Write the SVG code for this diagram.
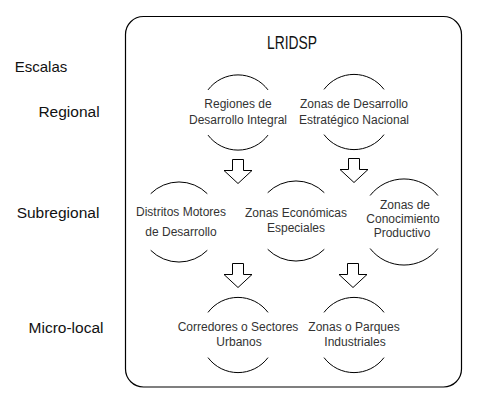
<svg xmlns="http://www.w3.org/2000/svg" width="481" height="406" viewBox="0 0 481 406">
<style>
.arc{fill:none;stroke:#000;stroke-width:1}
.arr{fill:#fff;stroke:#000;stroke-width:1}
.t{font-family:"Liberation Sans",Arial,sans-serif;font-size:12px;fill:#333;text-anchor:middle}
.s{font-family:"Liberation Sans",Arial,sans-serif;font-size:15.5px;fill:#111;text-anchor:middle}
</style>
<rect width="481" height="406" fill="#fff"/>
<g id="frame">
<rect x="125.5" y="16.5" width="336" height="370.5" rx="18" ry="18" fill="none" stroke="#000" stroke-width="1.2"/>
<text x="292" y="49" class="s" style="font-size:18px" textLength="50" lengthAdjust="spacingAndGlyphs">LRIDSP</text>
</g>
<g id="scales">
<text x="41" y="72" class="s" style="font-size:15px">Escalas</text>
<text x="69" y="117" class="s">Regional</text>
<text x="58" y="218" class="s">Subregional</text>
<text x="66" y="333" class="s">Micro-local</text>
</g>
<g id="n-rdi">
<path class="arc" d="M208,89.9 A37.5,37.5 0 0 1 268,89.9 M208,135.1 A37.5,37.5 0 0 0 268,135.1"/>
<text x="238" y="108" class="t">Regiones de</text>
<text x="238" y="124" class="t">Desarrollo Integral</text>
</g>
<g id="n-zden">
<path class="arc" d="M324,89.4 A37.5,37.5 0 0 1 384,89.4 M324,134.6 A37.5,37.5 0 0 0 384,134.6"/>
<text x="354" y="108" class="t">Zonas de Desarrollo</text>
<text x="354" y="124" class="t">Estratégico Nacional</text>
</g>
<g id="n-dmd">
<path class="arc" d="M150.7,193.7 A40,40 0 0 1 207.3,193.7 M150.7,250.3 A40,40 0 0 0 207.3,250.3"/>
<text x="181" y="216" class="t">Distritos Motores</text>
<text x="181" y="236" class="t">de Desarrollo</text>
</g>
<g id="n-zee">
<path class="arc" d="M267.7,192.7 A40,40 0 0 1 324.3,192.7 M267.7,249.3 A40,40 0 0 0 324.3,249.3"/>
<text x="296" y="217" class="t">Zonas Económicas</text>
<text x="296" y="232" class="t">Especiales</text>
</g>
<g id="n-zcp">
<path class="arc" d="M370.1,195.5 A43,43 0 0 1 437.9,195.5 M370.1,248.5 A43,43 0 0 0 437.9,248.5"/>
<text x="405" y="209" class="t">Zonas de</text>
<text x="403" y="223" class="t">Conocimiento</text>
<text x="402" y="237" class="t">Productivo</text>
</g>
<g id="n-cso">
<path class="arc" d="M208,312.4 A37.5,37.5 0 0 1 268,312.4 M208,357.6 A37.5,37.5 0 0 0 268,357.6"/>
<text x="238" y="331" class="t">Corredores o Sectores</text>
<text x="239" y="346" class="t">Urbanos</text>
</g>
<g id="n-zpi">
<path class="arc" d="M324,312.4 A37.5,37.5 0 0 1 384,312.4 M324,357.6 A37.5,37.5 0 0 0 384,357.6"/>
<text x="354" y="331" class="t">Zonas o Parques</text>
<text x="355" y="346" class="t">Industriales</text>
</g>
<g id="connectors">
<path class="arr" d="M232.5,159.5 H243.5 V170.5 H252 L238,183.5 L224,170.5 H232.5 Z"/>
<path class="arr" d="M348.5,158.5 H359.5 V169.5 H368 L354,182.5 L340,169.5 H348.5 Z"/>
<path class="arr" d="M232.5,263.5 H243.5 V274.5 H252 L238,287.5 L224,274.5 H232.5 Z"/>
<path class="arr" d="M347.5,263.5 H358.5 V274.5 H367 L353,287.5 L339,274.5 H347.5 Z"/>
</g>
</svg>
